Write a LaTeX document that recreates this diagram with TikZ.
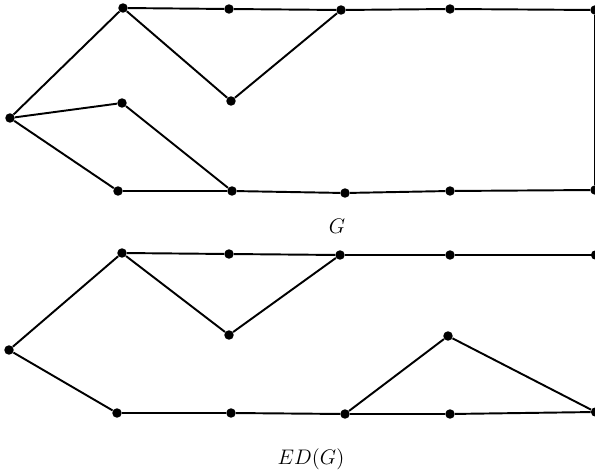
\documentclass[tikz,border=0pt]{standalone}
\usepackage{tikz}
\tikzset{
  vtx/.style={circle,fill=black,inner sep=0pt,minimum size=5.4pt},
  edge/.style={black,line width=1.1pt},
}
\begin{document}
\begin{tikzpicture}[x=0.02cm,y=-0.02cm,font=\large]
  \useasboundingbox (0,0) rectangle (595,473);
  % graph G
  \foreach \n/\x/\y in {g1/10/118,g2/123/8,g3/229/9,g4/341/10,g5/450/9,g6/595/10,
      g7/231/101,g8/122/103,g9/118/191,g10/232/191,g11/345/193,g12/450/191,g13/595/190}
    \node[vtx] (\n) at (\x,\y) {};
  \foreach \a/\b in {g1/g2,g2/g3,g3/g4,g4/g5,g5/g6,g6/g13,g2/g7,g7/g4,g1/g8,g8/g10,
      g1/g9,g9/g10,g10/g11,g11/g12,g12/g13}
    \draw[edge] (\a) -- (\b);
  \node (lblG) at (337,226) {$G$};
  % graph ED(G)
  \foreach \n/\x/\y in {e1/9/350,e2/122/253,e3/229/254,e4/340/255,e5/450/255,e6/595.6/255,
      e7/229/335,e8/117/413,e9/231/413,e10/345/414,e11/450/414,e12/595.6/412,e13/448/336}
    \node[vtx] (\n) at (\x,\y) {};
  \foreach \a/\b in {e1/e2,e2/e3,e3/e4,e4/e5,e5/e6,e6/e12,e2/e7,e7/e4,e1/e8,e8/e9,
      e9/e10,e10/e11,e11/e12,e10/e13,e13/e12}
    \draw[edge] (\a) -- (\b);
  \node (lblED) at (311,459) {$ED(G)$};
\end{tikzpicture}
\end{document}
